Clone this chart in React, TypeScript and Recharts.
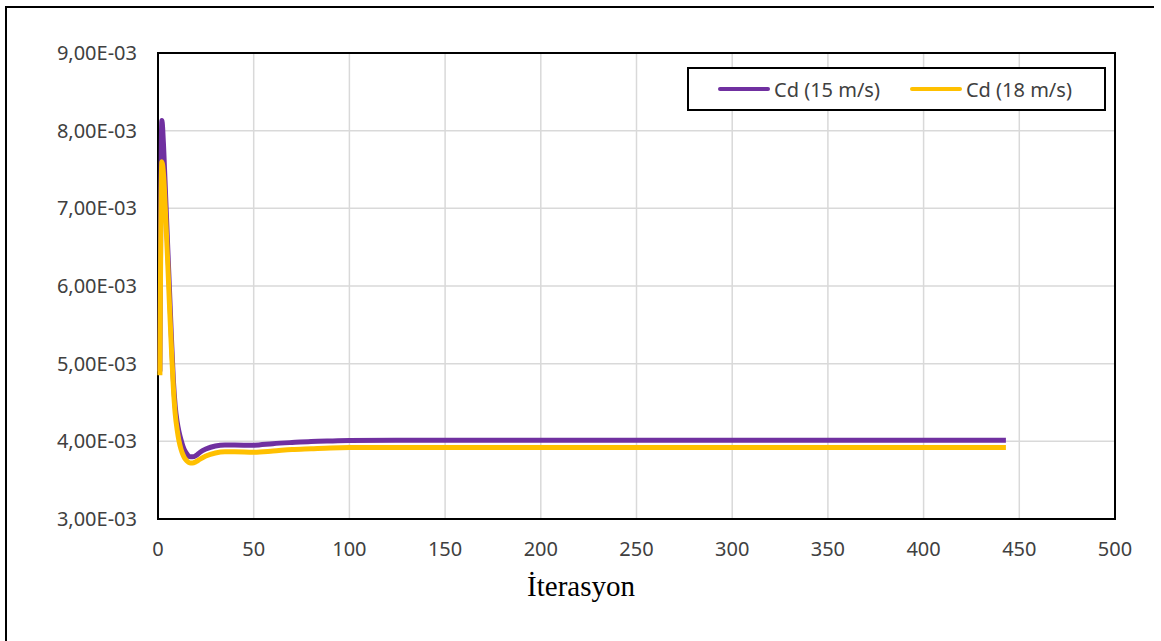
import { CartesianGrid, Legend, Line, LineChart, ReferenceArea, XAxis, YAxis } from "recharts";

const ITER = [1, 2, 3, 4, 5, 6, 7, 8, 9, 10, 11, 12, 13, 14, 15, 16, 17, 18, 20, 22, 25, 30, 35, 40, 50, 60, 70, 80, 90, 100, 125, 150, 200, 250, 300, 350, 400, 443];
const CD15 = [4.9, 8.13, 7.75, 7.15, 6.55, 5.95, 5.35, 4.8, 4.45, 4.25, 4.12, 4.02, 3.94, 3.88, 3.84, 3.81, 3.8, 3.8, 3.82, 3.86, 3.9, 3.94, 3.952, 3.952, 3.95, 3.97, 3.985, 3.998, 4.005, 4.01, 4.013, 4.013, 4.013, 4.013, 4.013, 4.013, 4.013, 4.013];
const CD18 = [4.85, 7.6, 7.4, 6.9, 6.35, 5.75, 5.2, 4.7, 4.35, 4.15, 4.0, 3.9, 3.83, 3.78, 3.75, 3.73, 3.72, 3.72, 3.74, 3.77, 3.81, 3.85, 3.865, 3.865, 3.86, 3.875, 3.895, 3.905, 3.915, 3.92, 3.922, 3.922, 3.922, 3.922, 3.922, 3.922, 3.922, 3.922];
const X_TICKS = [0, 50, 100, 150, 200, 250, 300, 350, 400, 450, 500];
const Y_TICKS = [0.003, 0.004, 0.005, 0.006, 0.007, 0.008, 0.009];
const SERIES = [
  { key: "cd15", name: "Cd (15 m/s)", color: "#7030A0" },
  { key: "cd18", name: "Cd (18 m/s)", color: "#FFC000" },
];

const data = ITER.map((it, i) => ({ it, cd15: CD15[i] / 1000, cd18: CD18[i] / 1000 }));

const FONT = "'Noto Sans', sans-serif";

function sci(v: number) {
  const [m, ex] = v.toExponential(2).split("e");
  const n = parseInt(ex, 10);
  return `${m.replace(".", ",")}E${n < 0 ? "-" : "+"}${String(Math.abs(n)).padStart(2, "0")}`;
}

function renderLegend() {
  return (
    <div
      style={{
        boxSizing: "border-box",
        width: 419,
        height: 44,
        border: "2px solid #000",
        background: "#fff",
        display: "flex",
        alignItems: "center",
        paddingLeft: 29,
        fontFamily: FONT,
        fontSize: 20,
        color: "#404040",
      }}
    >
      {SERIES.map((s, i) => (
        <div key={s.key} style={{ display: "flex", alignItems: "center", marginRight: i === 0 ? 30 : 0 }}>
          <span style={{ display: "inline-block", width: 52, height: 4, background: s.color, marginRight: 4, borderRadius: 2 }} />
          <span>{s.name}</span>
        </div>
      ))}
    </div>
  );
}

function AxisTitle(props: any) {
  const { viewBox } = props;
  return (
    <text
      x={viewBox.x + 423}
      y={viewBox.y + 77}
      textAnchor="middle"
      fontFamily="'Liberation Serif', serif"
      fontSize={29}
      fill="#000"
    >
      İterasyon
    </text>
  );
}

export default function App() {
  return (
    <div style={{ position: "absolute", left: 0, top: 0, width: 1161, height: 641, background: "#fff" }}>
      <div
        style={{
          position: "absolute",
          left: 5,
          top: 6,
          width: 1147,
          height: 640,
          borderLeft: "2px solid #000",
          borderTop: "2px solid #000",
        }}
      />
      <LineChart
        width={1161}
        height={641}
        data={data}
        margin={{ top: 53, right: 46, bottom: 42, left: 58 }}
        style={{ position: "absolute", left: 0, top: 0 }}
      >
        <CartesianGrid stroke="#d9d9d9" strokeWidth={1.5} />
        <XAxis
          dataKey="it"
          type="number"
          domain={[0, 500]}
          ticks={X_TICKS}
          height={36}
          tickLine={false}
          tickSize={0}
          tickMargin={23}
          axisLine={false}
          tick={{ fontSize: 20, fontFamily: FONT, fill: "#404040" }}
          label={<AxisTitle />}
        />
        <YAxis
          type="number"
          domain={[0.003, 0.009]}
          ticks={Y_TICKS}
          width={100}
          tickLine={false}
          tickSize={0}
          tickMargin={21}
          axisLine={false}
          tickFormatter={sci}
          tick={{ fontSize: 20, fontFamily: FONT, fill: "#404040" }}
        />
        <ReferenceArea x1={0} x2={500} y1={0.003} y2={0.009} fill="none" stroke="#000" strokeWidth={2} />
        {SERIES.map((s) => (
          <Line
            key={s.key}
            dataKey={s.key}
            name={s.name}
            type="monotone"
            stroke={s.color}
            strokeWidth={5}
            dot={false}
            isAnimationActive={false}
          />
        ))}
        <Legend content={renderLegend} wrapperStyle={{ top: 67, left: 687, width: 419, height: 44 }} />
      </LineChart>
    </div>
  );
}
